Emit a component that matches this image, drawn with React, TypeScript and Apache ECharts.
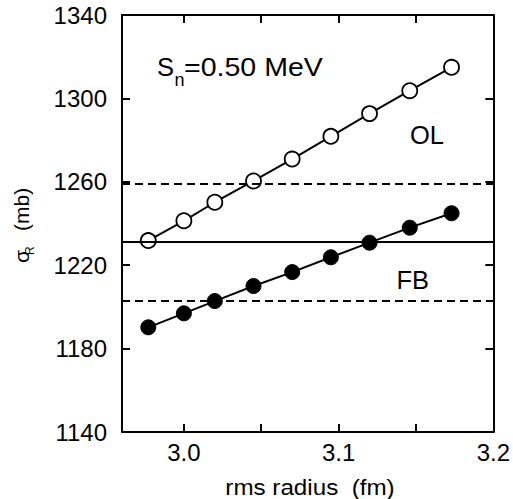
import React, { useEffect, useRef } from "react";
import * as echarts from "echarts";

// rms radius (fm) of each calculation
const radiusOL = [2.977, 3.0, 3.02, 3.045, 3.07, 3.095, 3.12, 3.146, 3.173];
const radiusFB = [2.977, 3.0, 3.02, 3.045, 3.07, 3.095, 3.12, 3.146, 3.173];
// reaction cross section sigma_R (mb)
const sigmaOL = [1231.8, 1241.3, 1250.2, 1260.4, 1270.9, 1281.8, 1292.7, 1303.7, 1314.9];
const sigmaFB = [1190.2, 1196.9, 1202.8, 1210.0, 1216.7, 1223.8, 1230.8, 1238.0, 1244.9];
// experimental value and its error band
const expValue = 1231.3;
const expBand = [1259.3, 1203.0];
// axes
const xTickValues = [3.0, 3.05, 3.1, 3.15, 3.2];
const xLabelValues = [3.0, 3.1, 3.2];
const yTickValues = [1180, 1220, 1260, 1300];
const yLabelValues = [1140, 1180, 1220, 1260, 1300, 1340];

const FONT = "'Liberation Sans', Arial, Helvetica, sans-serif";

export default function App() {
  const ref = useRef<HTMLDivElement>(null);
  useEffect(() => {
    document.body.style.margin = "0";
    const chart = echarts.init(ref.current!, undefined, { renderer: "svg" });
    const axisCommon = {
      axisLine: { show: true, onZero: false, lineStyle: { color: "#000", width: 2 } },
      splitLine: { show: false },
    };
    const tickStyle = { inside: true, length: 8, lineStyle: { color: "#000", width: 2 } };
    const dashed = { color: "#000", width: 2, type: [8, 5] as number[] };
    const solid = { color: "#000", width: 2, type: "solid" as const };
    const text = (t: string, x: number, y: number, fs: number, extra: any = {}) => ({
      type: "text",
      x,
      y,
      silent: true,
      ...extra,
      style: {
        text: t,
        fontSize: fs,
        fontFamily: FONT,
        fill: "#000",
        textAlign: "left",
        textVerticalAlign: "middle",
        ...(extra.style || {}),
      },
    });
    chart.setOption({
      animation: false,
      backgroundColor: "#fff",
      grid: { left: 122, right: 18, top: 15, bottom: 67 },
      xAxis: [
        {
          type: "value",
          min: 2.96,
          max: 3.2,
          ...axisCommon,
          axisTick: { ...tickStyle, customValues: xTickValues },
          axisLabel: {
            customValues: xLabelValues,
            formatter: (v: number) => v.toFixed(1),
            color: "#000",
            fontSize: 24,
            fontFamily: FONT,
            margin: 8,
          },
        },
        {
          type: "value",
          position: "top",
          min: 2.96,
          max: 3.2,
          ...axisCommon,
          axisTick: { ...tickStyle, customValues: xTickValues },
          axisLabel: { show: false },
        },
      ],
      yAxis: [
        {
          type: "value",
          min: 1140,
          max: 1340,
          ...axisCommon,
          axisTick: { ...tickStyle, customValues: yTickValues },
          axisLabel: {
            customValues: yLabelValues,
            formatter: (v: number) => String(v),
            color: "#000",
            fontSize: 24,
            fontFamily: FONT,
            margin: 15,
          },
        },
        {
          type: "value",
          position: "right",
          min: 1140,
          max: 1340,
          ...axisCommon,
          axisTick: { ...tickStyle, customValues: yTickValues },
          axisLabel: { show: false },
        },
      ],
      series: [
        {
          name: "OL",
          type: "line",
          data: radiusOL.map((r, i) => [r, sigmaOL[i]]),
          symbol: "circle",
          symbolSize: 15,
          itemStyle: { color: "#fff", borderColor: "#000", borderWidth: 1.8 },
          lineStyle: { color: "#000", width: 2 },
          z: 3,
          markLine: {
            silent: true,
            symbol: ["none", "none"],
            label: { show: false },
            data: [
              { yAxis: expBand[0], lineStyle: dashed },
              { yAxis: expValue, lineStyle: solid },
              { yAxis: expBand[1], lineStyle: dashed },
            ],
          },
        },
        {
          name: "FB",
          type: "line",
          data: radiusFB.map((r, i) => [r, sigmaFB[i]]),
          symbol: "circle",
          symbolSize: 15,
          itemStyle: { color: "#000", borderColor: "#000", borderWidth: 1 },
          lineStyle: { color: "#000", width: 2 },
          z: 3,
        },
      ],
      graphic: [
        text("S", 157, 67, 25.5),
        text("n", 174.5, 79.5, 18),
        text("=0.50 MeV", 184, 67, 25.5, { scaleX: 1.12 }),
        text("OL", 410, 134.5, 25.5),
        text("FB", 396.5, 280, 25.5),
        text("rms radius  (fm)", 310, 487, 22, { style: { textAlign: "center" }, scaleX: 1.1 }),
        text("σ", 21.6, 263, 21, { rotation: Math.PI / 2 }),
        text("R", 29.5, 255, 12, { rotation: Math.PI / 2 }),
        text("(mb)", 21.6, 231, 21, { rotation: Math.PI / 2 }),
      ],
    });
    return () => chart.dispose();
  }, []);
  return (
    <div
      ref={ref}
      style={{ position: "absolute", left: 0, top: 0, width: 513, height: 499, background: "#fff" }}
    />
  );
}
